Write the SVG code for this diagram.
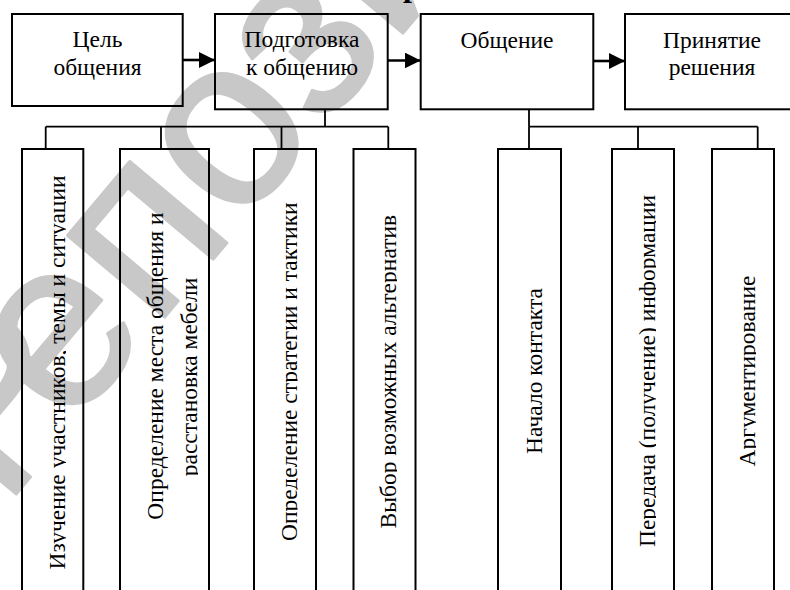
<svg xmlns="http://www.w3.org/2000/svg" width="790" height="590" viewBox="0 0 790 590">
  <style>
    .box { fill: none; stroke: #000; stroke-width: 2; }
    .wire { fill: none; stroke: #000; stroke-width: 1.8; }
    .flow { fill: none; stroke: #000; stroke-width: 2.6; }
    .lbl { font-family: "Liberation Serif", "Times New Roman", serif; font-size: 23.5px; fill: #000; text-anchor: middle; }
    .vlbl { font-family: "Liberation Serif", "Times New Roman", serif; font-size: 23.5px; fill: #000; text-anchor: middle; }
    .mark { font-family: "Liberation Sans", Arial, sans-serif; font-size: 240px; fill: #c8c8c8; stroke: #c8c8c8; stroke-width: 3; stroke-linejoin: round; }
  </style>
  <defs>
    <marker id="arrow" viewBox="0 0 16 16" refX="16" refY="8" markerWidth="16" markerHeight="16" markerUnits="userSpaceOnUse" orient="auto">
      <path d="M0,0 L16,8 L0,16 Z" fill="#000"/>
    </marker>
    <!-- text frames cut the lines off at the baseline -->
    <clipPath id="cutA" clipPathUnits="userSpaceOnUse"><rect x="0" y="140" width="66" height="460"/></clipPath>
    <clipPath id="cutB" clipPathUnits="userSpaceOnUse"><rect x="170" y="140" width="28" height="460"/></clipPath>
    <clipPath id="cutC" clipPathUnits="userSpaceOnUse"><rect x="250" y="140" width="47.5" height="460"/></clipPath>
    <clipPath id="cutD" clipPathUnits="userSpaceOnUse"><rect x="350" y="140" width="47" height="460"/></clipPath>
    <clipPath id="cutF" clipPathUnits="userSpaceOnUse"><rect x="600" y="140" width="56" height="460"/></clipPath>
    <clipPath id="cutG" clipPathUnits="userSpaceOnUse"><rect x="700" y="140" width="56" height="460"/></clipPath>
    <clipPath id="page" clipPathUnits="userSpaceOnUse"><rect x="0" y="0" width="790" height="590"/></clipPath>
  </defs>

  <rect x="0" y="0" width="790" height="590" fill="#fff"/>

  <!-- background stamp -->
  <g id="watermark">
    <text class="mark" transform="translate(3.5,509) rotate(-50)">Р<tspan dx="-49">епозиторий</tspan></text>
  </g>

  <!-- cut-off heading above the chart -->
  <g id="heading" clip-path="url(#page)">
    <text x="403" y="-4" font-family="'Liberation Serif', 'Times New Roman', serif" font-size="32" font-weight="bold">р</text>
  </g>

  <!-- connectors -->
  <g id="connectors">
    <line class="flow" x1="183" y1="60" x2="215" y2="60" marker-end="url(#arrow)"/>
    <line class="flow" x1="388" y1="60.5" x2="420.7" y2="60.5" marker-end="url(#arrow)"/>
    <line class="flow" x1="593.3" y1="61" x2="625" y2="61" marker-end="url(#arrow)"/>

    <polyline class="wire" points="325,109.3 325,126.7"/>
    <line class="wire" x1="45.7" y1="126.7" x2="388.3" y2="126.7"/>
    <line class="wire" x1="45.7" y1="126.7" x2="45.7" y2="149"/>
    <line class="wire" x1="161" y1="126.7" x2="161" y2="149"/>
    <line class="wire" x1="281.5" y1="126.7" x2="281.5" y2="149"/>
    <line class="wire" x1="388.3" y1="126.7" x2="388.3" y2="149"/>

    <polyline class="wire" points="529,109.3 529,126.7"/>
    <line class="wire" x1="529" y1="126.7" x2="757.7" y2="126.7"/>
    <line class="wire" x1="529" y1="126.7" x2="529" y2="149"/>
    <line class="wire" x1="638" y1="126.7" x2="638" y2="149"/>
    <line class="wire" x1="757.7" y1="126.7" x2="757.7" y2="149"/>
  </g>

  <!-- stages -->
  <g id="goal">
    <rect class="box" x="12" y="14" width="170.7" height="92"/>
    <text class="lbl" x="97.5" y="46.7">Цель</text>
    <text class="lbl" x="97.5" y="75">общения</text>
  </g>
  <g id="preparation">
    <rect class="box" x="215" y="14" width="172.7" height="95.3"/>
    <text class="lbl" x="302" y="47">Подготовка</text>
    <text class="lbl" x="302" y="75">к общению</text>
  </g>
  <g id="communication">
    <rect class="box" x="420.7" y="14" width="172.6" height="95.3"/>
    <text class="lbl" x="507" y="48.3">Общение</text>
  </g>
  <g id="decision">
    <rect class="box" x="625" y="14" width="180" height="95.3"/>
    <text class="lbl" x="712" y="47.7">Принятие</text>
    <text class="lbl" x="712" y="75">решения</text>
  </g>

  <!-- preparation steps -->
  <g id="study">
    <rect class="box" x="22" y="149" width="61.3" height="460"/>
    <g clip-path="url(#cutA)">
      <text class="vlbl" transform="translate(65,372.5) rotate(-90)">Изучение участников, темы и ситуации</text>
    </g>
  </g>
  <g id="place">
    <rect class="box" x="120" y="149" width="89" height="460"/>
    <text class="vlbl" transform="translate(163.3,366) rotate(-90)">Определение места общения и</text>
    <g clip-path="url(#cutB)">
      <text class="vlbl" transform="translate(196.7,377) rotate(-90)">расстановка мебели</text>
    </g>
  </g>
  <g id="strategy">
    <rect class="box" x="254" y="149" width="62" height="460"/>
    <g clip-path="url(#cutC)">
      <text class="vlbl" transform="translate(296.5,371.7) rotate(-90)">Определение стратегии и тактики</text>
    </g>
  </g>
  <g id="alternatives">
    <rect class="box" x="353.5" y="149" width="62" height="460"/>
    <g clip-path="url(#cutD)">
      <text class="vlbl" transform="translate(396,371.7) rotate(-90)">Выбор возможных альтернатив</text>
    </g>
  </g>

  <!-- communication steps -->
  <g id="contact">
    <rect class="box" x="498" y="149" width="63" height="460"/>
    <text class="vlbl" transform="translate(541.7,371) rotate(-90)">Начало контакта</text>
  </g>
  <g id="transfer">
    <rect class="box" x="612" y="149" width="62" height="460"/>
    <g clip-path="url(#cutF)">
      <text class="vlbl" transform="translate(655,371) rotate(-90)">Передача (получение) информации</text>
    </g>
  </g>
  <g id="argument">
    <rect class="box" x="712" y="149" width="62" height="460"/>
    <g clip-path="url(#cutG)">
      <text class="vlbl" transform="translate(755,371) rotate(-90)">Аргументирование</text>
    </g>
  </g>
</svg>
